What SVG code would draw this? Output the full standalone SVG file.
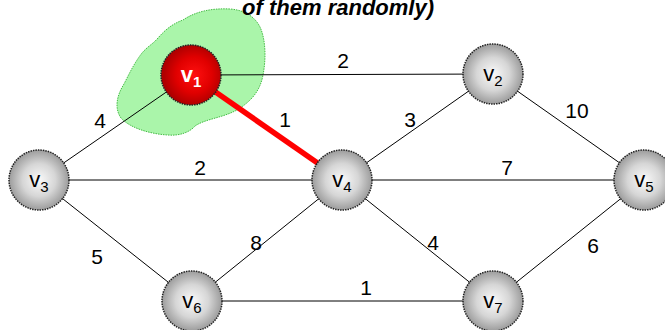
<svg xmlns="http://www.w3.org/2000/svg" width="665" height="330" viewBox="0 0 665 330">
<defs>
<radialGradient id="gg" cx="50%" cy="50%" r="50%">
<stop offset="0" stop-color="#fafafa"/>
<stop offset="0.55" stop-color="#d6d6d6"/>
<stop offset="1" stop-color="#9c9c9c"/>
</radialGradient>
<radialGradient id="rg" cx="55%" cy="50%" r="50%">
<stop offset="0" stop-color="#ff1010"/>
<stop offset="0.6" stop-color="#e00000"/>
<stop offset="1" stop-color="#b00000"/>
</radialGradient>
</defs>
<style>
.e{stroke:#000;stroke-width:1;fill:none}
.hl{stroke:#ff0000;stroke-width:5.5;fill:none}
.n{fill:url(#gg);stroke:#222;stroke-width:1.5;stroke-dasharray:1.5 1}
.nr{fill:url(#rg);stroke:#222;stroke-width:1.5;stroke-dasharray:1.5 1}
.nl{font-family:"Liberation Sans",Arial,sans-serif;font-size:22px;fill:#000;text-anchor:middle}
.nlw{font-family:"Liberation Sans",Arial,sans-serif;font-size:22px;font-weight:bold;fill:#fff;text-anchor:middle}
.wl{font-family:"Liberation Sans",Arial,sans-serif;font-size:21px;fill:#000;text-anchor:middle}
.t{font-family:"Liberation Sans",Arial,sans-serif;font-size:22px;font-style:italic;font-weight:bold;fill:#000;text-anchor:end}
</style>
<path id="blob" d="M183,20 C195,12 210,8 230,9 C245,10 255,17 260,27 C266,40 266,60 263,75 C260,92 250,102 237,110 C222,118 205,119 195,126 C190,132 180,136 168,135 C150,134 130,128 121,118 C114,108 117,95 124,84 C130,72 135,62 142,53 C148,46 153,44 158,38 C165,30 172,24 183,20 Z" fill="#aaf5aa" stroke="#44bb44" stroke-width="1" stroke-dasharray="1.5 1"/>
<text class="t" x="434" y="15">of them randomly)</text>
<g id="edges">
<line class="e" x1="191" y1="75" x2="493" y2="74"/>
<line class="e" x1="191" y1="75" x2="39" y2="180"/>
<line class="e" x1="39" y1="180" x2="644" y2="180"/>
<line class="e" x1="493" y1="74" x2="342" y2="180"/>
<line class="e" x1="493" y1="74" x2="644" y2="180"/>
<line class="e" x1="39" y1="180" x2="192" y2="301"/>
<line class="e" x1="342" y1="180" x2="192" y2="301"/>
<line class="e" x1="342" y1="180" x2="493" y2="301"/>
<line class="e" x1="644" y1="180" x2="493" y2="301"/>
<line class="e" x1="192" y1="301" x2="493" y2="301"/>
<line class="hl" x1="191" y1="75" x2="342" y2="180"/>
<text class="wl" x="343" y="68">2</text>
<text class="wl" x="285" y="127">1</text>
<text class="wl" x="100" y="128">4</text>
<text class="wl" x="410" y="127">3</text>
<text class="wl" x="577" y="118">10</text>
<text class="wl" x="200" y="175">2</text>
<text class="wl" x="507" y="175">7</text>
<text class="wl" x="256" y="250">8</text>
<text class="wl" x="433" y="250">4</text>
<text class="wl" x="97" y="264">5</text>
<text class="wl" x="593" y="253">6</text>
<text class="wl" x="366" y="295">1</text>
</g>
<g id="v1"><circle class="nr" cx="191" cy="75" r="30"/><text class="nlw" x="191" y="82">v<tspan font-size="15" dy="5">1</tspan></text></g>
<g id="v2"><circle class="n" cx="493" cy="74" r="30"/><text class="nl" x="493" y="81">v<tspan font-size="15" dy="5">2</tspan></text></g>
<g id="v3"><circle class="n" cx="39" cy="180" r="30"/><text class="nl" x="39" y="187">v<tspan font-size="15" dy="5">3</tspan></text></g>
<g id="v4"><circle class="n" cx="342" cy="180" r="30"/><text class="nl" x="342" y="187">v<tspan font-size="15" dy="5">4</tspan></text></g>
<g id="v5"><circle class="n" cx="644" cy="180" r="30"/><text class="nl" x="644" y="187">v<tspan font-size="15" dy="5">5</tspan></text></g>
<g id="v6"><circle class="n" cx="192" cy="301" r="30"/><text class="nl" x="192" y="308">v<tspan font-size="15" dy="5">6</tspan></text></g>
<g id="v7"><circle class="n" cx="493" cy="301" r="30"/><text class="nl" x="493" y="308">v<tspan font-size="15" dy="5">7</tspan></text></g>
</svg>
